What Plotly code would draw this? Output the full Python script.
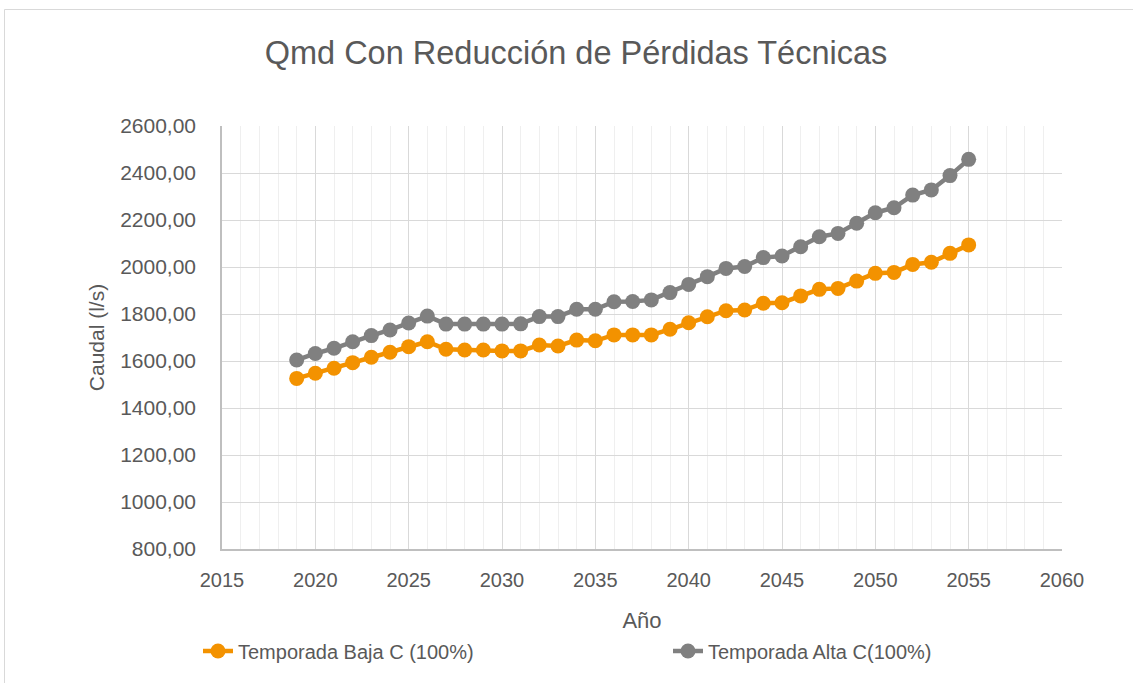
import plotly.graph_objects as go

years = list(range(2019, 2056))
baja = [1526, 1548, 1569, 1593, 1616, 1637, 1661, 1682, 1650, 1647, 1647, 1643, 1643,
        1668, 1664, 1689, 1686, 1711, 1711, 1711, 1735, 1763, 1788, 1814, 1817, 1846,
        1848, 1877, 1905, 1909, 1940, 1973, 1977, 2011, 2020, 2058, 2094]
alta = [1604, 1632, 1654, 1682, 1708, 1732, 1762, 1791, 1757, 1757, 1757, 1757, 1758,
        1789, 1789, 1820, 1820, 1852, 1853, 1860, 1891, 1926, 1959, 1994, 2002, 2040,
        2047, 2086, 2129, 2143, 2186, 2231, 2252, 2306, 2328, 2389, 2458]

name_baja = "Temporada Baja C (100%)"
name_alta = "Temporada Alta C(100%)"
title = "Qmd Con Reducción de Pérdidas Técnicas"

ORANGE = "#F39200"
GRAY = "#808080"
TXT = "#595959"
NARROW = "Liberation Sans Narrow, Arial Narrow, Liberation Sans, Arial, sans-serif"
REG = "Liberation Sans, Arial, sans-serif"

W, H = 1133, 683
L, R, T, B = 222, 1062, 126, 549

fig = go.Figure()
fig.add_trace(go.Scatter(x=years, y=baja, name=name_baja, mode="lines+markers",
                         line=dict(color=ORANGE, width=4.5), showlegend=True,
                         marker=dict(color=ORANGE, size=15), legend="legend"))
fig.add_trace(go.Scatter(x=years, y=alta, name=name_alta, mode="lines+markers",
                         line=dict(color=GRAY, width=4.5), showlegend=True,
                         marker=dict(color=GRAY, size=15), legend="legend2"))

pw, ph = R - L, B - T
fig.add_shape(type="rect", xref="paper", yref="paper",
              x0=(4.5 - L) / pw, x1=(W + 10 - L) / pw,
              y0=(B - (H + 10)) / ph, y1=(B - 9.5) / ph,
              line=dict(color="#d9d9d9", width=1), fillcolor="rgba(0,0,0,0)", layer="below")

leg_common = dict(orientation="h", xanchor="left", y=(B - 651) / ph, yanchor="middle",
                  font=dict(family=NARROW, size=20, color=TXT), bgcolor="rgba(0,0,0,0)")

fig.update_layout(
    width=W, height=H, showlegend=True,
    margin=dict(l=L, r=W - R, t=T, b=H - B),
    paper_bgcolor="white", plot_bgcolor="white",
    separators=",.",
    title=dict(text=title, x=576 / W, xanchor="center", y=1 - 53 / H, yanchor="middle",
               font=dict(family=NARROW, size=32.5, color=TXT)),
    xaxis=dict(range=[2015, 2060], dtick=5, tick0=2015, showgrid=True, gridcolor="#d9d9d9",
               gridwidth=1.3,
               minor=dict(dtick=1, showgrid=True, gridcolor="#efefef", gridwidth=1),
               showline=True, linecolor="#bfbfbf", linewidth=1.5, ticks="", zeroline=False,
               tickfont=dict(family=NARROW, size=20, color=TXT), ticklabelstandoff=12,
               title=dict(text="Año", font=dict(family=NARROW, size=22, color=TXT), standoff=23)),
    yaxis=dict(range=[800, 2600], dtick=200, tickformat=".2f", showgrid=True,
               gridcolor="#d9d9d9", gridwidth=1.3,
               showline=True, linecolor="#bfbfbf", linewidth=1.5, ticks="", zeroline=False,
               tickfont=dict(family=REG, size=21, color=TXT), ticklabelstandoff=20,
               title=dict(text="Caudal (l/s)", font=dict(family=REG, size=21, color=TXT), standoff=10)),
    legend=dict(x=(198 - L) / pw, **leg_common),
    legend2=dict(x=(668 - L) / pw, **leg_common),
)

fig.write_html("out.html", config={"displayModeBar": False},
               post_script="document.body.style.margin='0';")
